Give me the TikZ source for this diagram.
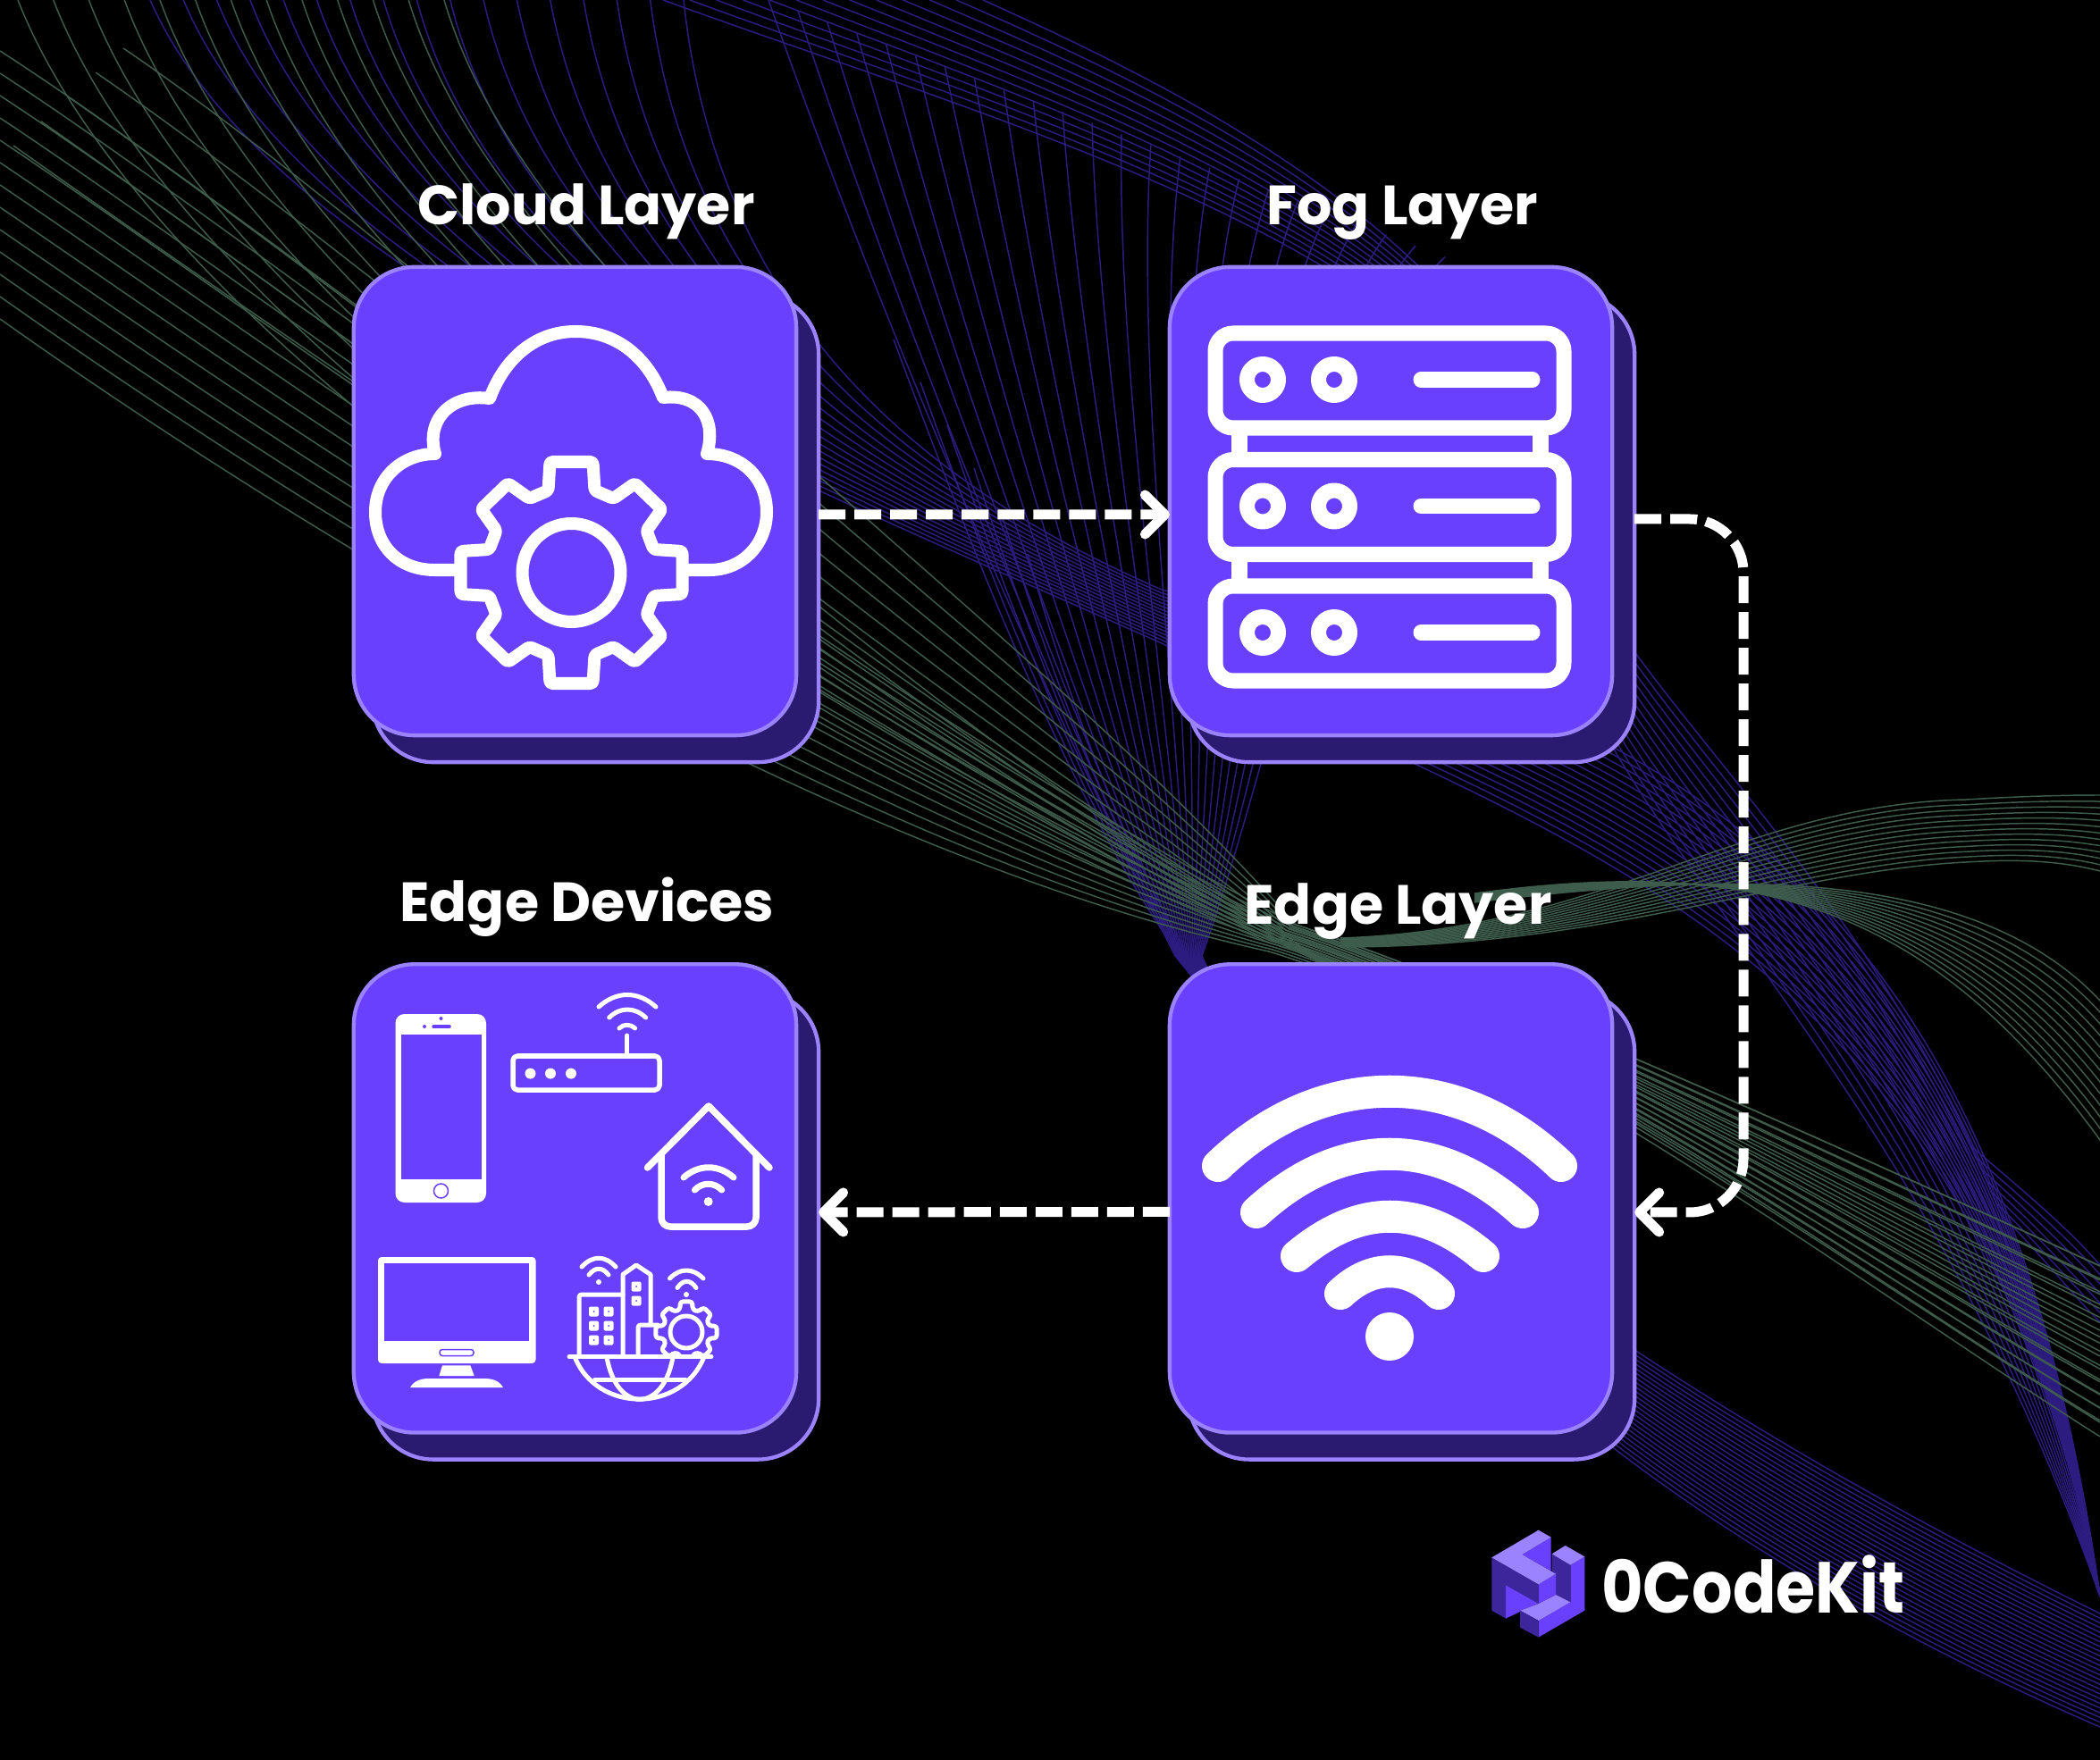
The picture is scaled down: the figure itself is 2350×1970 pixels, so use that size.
\documentclass[tikz,border=0pt]{standalone}
\usepackage{fontspec}
\setmainfont{Poppins}
\usetikzlibrary{positioning,arrows.meta,calc}
\definecolor{tierfill}{HTML}{6A40FF}
\definecolor{tieredge}{HTML}{9B82FF}
\definecolor{tierback}{HTML}{2A1A70}
\definecolor{meshpurple}{HTML}{2C1C80}
\definecolor{meshgreen}{HTML}{3E5C4C}
\tikzset{
  backbox/.style={
    draw=tieredge, fill=tierback, rounded corners=.68cm, line width=.043cm,
    minimum width=4.99cm, minimum height=5.24cm, inner sep=0pt, outer sep=0pt
  },
  frontbox/.style={
    draw=tieredge, fill=tierfill, rounded corners=.68cm, line width=.043cm,
    minimum width=4.95cm, minimum height=5.24cm, inner sep=0pt, outer sep=0pt
  },
  tierlabel/.style={
    text=white, font=\fontsize{17.6}{21}\selectfont\bfseries, inner sep=0pt
  },
  flowarrow/.style={
    draw=white, line width=.11cm, dash pattern=on .3cm off .1cm,
    -{Straight Barb[length=.22cm,width=.44cm,round]}
  },
  iconline/.style={draw=white, line width=.14cm, line cap=round, line join=round},
  thinicon/.style={draw=white, line width=.05cm, line cap=round, line join=round},
  waveline/.style={line width=.42pt},
  gearpic/.pic={
    \draw[rounded corners=.03cm, pic actions] (-24,-124) -- (24,-124) -- (26,-92) -- (47,-83) -- (71,-100)
      -- (101,-71) -- (84,-47) -- (92,-26) -- (124,-24) -- (124,24) -- (92,26) -- (84,47) -- (101,71)
      -- (71,100) -- (47,83) -- (26,92) -- (24,124) -- (-24,124) -- (-26,92) -- (-47,83) -- (-71,100)
      -- (-101,71) -- (-84,47) -- (-92,26) -- (-124,24) -- (-124,-24) -- (-92,-26) -- (-84,-47)
      -- (-101,-71) -- (-71,-100) -- (-47,-83) -- (-26,-92) -- cycle;
  }
}
\newcommand{\wavecurve}[8]{%
  \coordinate (#1a) at #2; \coordinate (#1b) at #3; \coordinate (#1c) at #4; \coordinate (#1d) at #5;
  \coordinate (#1e) at #6; \coordinate (#1f) at #7; \coordinate (#1g) at #8;
}
\newcommand{\wavemesh}[4]{%
  \foreach \kk in {0,...,#4}{
    \pgfmathsetmacro\mix{\kk/#4}
    \draw[waveline,#1] ($(#2a)!\mix!(#3a)$) .. controls ($(#2b)!\mix!(#3b)$) and ($(#2c)!\mix!(#3c)$) .. ($(#2d)!\mix!(#3d)$)
      .. controls ($(#2e)!\mix!(#3e)$) and ($(#2f)!\mix!(#3f)$) .. ($(#2g)!\mix!(#3g)$);
  }
}
\begin{document}
\begin{tikzpicture}[x=.01cm,y=-.01cm]
  \fill[black] (0,0) rectangle (2350,1970);
  \useasboundingbox (0,0) rectangle (2350,1970);

  \begin{scope}
    \clip (0,0) rectangle (2350,1970);
    \wavecurve{pa}{(168,0)}{(300,300)}{(850,520)}{(1300,720)}{(1750,950)}{(2200,1040)}{(2350,1787)}
    \wavecurve{pb}{(765,0)}{(800,330)}{(1000,530)}{(1300,660)}{(1850,800)}{(2230,950)}{(2350,1787)}
    \wavemesh{meshpurple}{pa}{pb}{16}
    \wavecurve{pc}{(1100,0)}{(1300,90)}{(1560,220)}{(1690,420)}{(1740,820)}{(2230,950)}{(2350,1787)}
    \wavecurve{pd}{(742,0)}{(1100,130)}{(1500,240)}{(1690,470)}{(1700,900)}{(2100,1080)}{(2350,1787)}
    \wavemesh{meshpurple}{pc}{pd}{12}
    \wavecurve{pe}{(860,0)}{(1000,400)}{(1170,780)}{(1315,1070)}{(1500,1300)}{(1850,1560)}{(2350,1806)}
    \wavecurve{pf}{(1650,300)}{(1500,420)}{(1440,800)}{(1345,1070)}{(1450,1300)}{(1700,1650)}{(2350,1933)}
    \wavemesh{meshpurple}{pe}{pf}{24}
    \wavecurve{pg}{(1000,380)}{(1100,650)}{(1200,900)}{(1320,1070)}{(1340,1110)}{(1400,1180)}{(1450,1230)}
    \wavecurve{ph}{(1150,620)}{(1200,800)}{(1260,950)}{(1330,1070)}{(1340,1110)}{(1400,1180)}{(1450,1230)}
    \wavemesh{meshpurple}{pg}{ph}{5}
    \wavecurve{pi}{(2206,1283)}{(2260,1330)}{(2310,1370)}{(2350,1416)}{(2380,1450)}{(2400,1470)}{(2420,1490)}
    \wavecurve{pj}{(2240,1360)}{(2280,1400)}{(2320,1450)}{(2350,1480)}{(2380,1510)}{(2400,1530)}{(2420,1550)}
    \wavemesh{meshpurple}{pi}{pj}{6}

    \wavecurve{gla}{(0,357)}{(300,570)}{(900,950)}{(1420,1065)}{(1700,1150)}{(2100,1450)}{(2350,1608)}
    \wavecurve{glb}{(0,57)}{(300,250)}{(900,750)}{(1450,1035)}{(1650,1100)}{(2050,1280)}{(2350,1417)}
    \wavemesh{meshgreen}{gla}{glb}{12}
    \wavecurve{gta}{(20,0)}{(150,330)}{(700,750)}{(1420,1055)}{(1700,1140)}{(2100,1440)}{(2350,1590)}
    \wavecurve{gtb}{(497,0)}{(600,350)}{(1100,640)}{(1450,1035)}{(1650,1100)}{(2050,1280)}{(2350,1417)}
    \wavemesh{meshgreen}{gta}{gtb}{12}
    \wavecurve{gsa}{(15,163)}{(350,400)}{(1000,850)}{(1420,1050)}{(1470,1075)}{(1530,1100)}{(1600,1120)}
    \wavecurve{gsb}{(138,54)}{(500,300)}{(1000,800)}{(1430,1040)}{(1470,1075)}{(1530,1100)}{(1600,1120)}
    \wavemesh{meshgreen}{gsa}{gsb}{4}
    \wavecurve{ga}{(1500,1050)}{(1800,1040)}{(1950,900)}{(2200,895)}{(2250,892)}{(2300,890)}{(2350,890)}
    \wavecurve{gb}{(1500,1060)}{(1800,1060)}{(2000,975)}{(2200,965)}{(2250,962)}{(2300,962)}{(2350,975)}
    \wavemesh{meshgreen}{ga}{gb}{12}
    \wavecurve{gc}{(1650,1000)}{(1950,960)}{(2150,1000)}{(2350,1276)}{(2400,1340)}{(2420,1370)}{(2450,1400)}
    \wavecurve{gd}{(1650,1010)}{(1900,980)}{(2200,960)}{(2350,1120)}{(2400,1170)}{(2420,1200)}{(2450,1230)}
    \wavemesh{meshgreen}{gc}{gd}{12}
  \end{scope}

  \node[backbox] (cloudback) at (666.5,591) {};
  \node[backbox, right=4.135cm of cloudback] (fogback) {};
  \node[backbox, below=2.56cm of cloudback] (devicesback) {};
  \node[backbox, below=2.56cm of fogback] (edgeback) {};

  \node[frontbox] (cloud) at ([xshift=-.23cm,yshift=.3cm]cloudback.center) {};
  \node[frontbox] (fog) at ([xshift=-.23cm,yshift=.3cm]fogback.center) {};
  \node[frontbox] (devices) at ([xshift=-.23cm,yshift=.3cm]devicesback.center) {};
  \node[frontbox] (edge) at ([xshift=-.23cm,yshift=.3cm]edgeback.center) {};

  \node[tierlabel, above=.3cm of cloud, xshift=.125cm] (cloudtitle) {Cloud Layer};
  \node[tierlabel, above=.3cm of fog, xshift=.13cm] (fogtitle) {Fog Layer};
  \node[tierlabel, above=.3cm of devices, xshift=.135cm] (devicestitle) {Edge Devices};
  \node[tierlabel, above=.27cm of edge, xshift=.08cm] (edgetitle) {Edge Layer};

  \draw[flowarrow] ([yshift=.15cm]cloudback.east) -- ([yshift=-.15cm]fog.west);
  \draw[flowarrow, rounded corners=.6cm] ([yshift=.1cm]fogback.east) -| (1951,1357) -- ([yshift=.145cm]edgeback.east);
  \draw[flowarrow] ([yshift=-.15cm]edge.west) -- ([yshift=.145cm]devicesback.east);

  \draw[iconline] (509,638) -- (487,638) .. controls (445,638) and (420,610) .. (420,573)
    .. controls (420,535) and (450,508) .. (487,508) .. controls (476,470) and (505,440) .. (548,446)
    .. controls (565,400) and (600,371) .. (644,371) .. controls (690,371) and (725,400) .. (742,445)
    .. controls (785,440) and (802,472) .. (791,508) .. controls (830,508) and (858,535) .. (858,573)
    .. controls (858,610) and (830,638) .. (794,638) -- (769,638);
  \pic[iconline] at (639.5,641) {gearpic};
  \draw[iconline] (639.5,641) circle[radius=55];

  \foreach \racktop in {373,514.5,656}{
    \draw[iconline, line width=.17cm, rounded corners=.2cm] (1360,\racktop) rectangle (1750,\racktop+106);
    \draw[iconline, line width=.17cm] (1590,\racktop+52) -- (1715,\racktop+52);
    \draw[iconline, line width=.17cm] (1413,\racktop+52) circle[radius=17.5];
    \draw[iconline, line width=.17cm] (1493,\racktop+52) circle[radius=17.5];
  }
  \foreach \gap in {479,620.5}{
    \fill[white] (1378,\gap) rectangle (1396,\gap+36);
    \fill[white] (1715,\gap) rectangle (1733,\gap+36);
  }

  \draw[iconline, line width=.36cm] (1363,1305) .. controls (1478,1194) and (1632,1194) .. (1747,1305);
  \draw[iconline, line width=.36cm] (1406,1357) .. controls (1501,1270) and (1609,1270) .. (1704,1357);
  \draw[iconline, line width=.36cm] (1451,1406) .. controls (1521,1347) and (1590,1347) .. (1660,1406);
  \draw[iconline, line width=.36cm] (1500,1448) .. controls (1535,1415) and (1575,1415) .. (1610,1448);
  \fill[white] (1555,1496) circle[radius=27];

  \fill[white, rounded corners=.1cm] (442.5,1135) rectangle (544,1346);
  \fill[tierfill] (448.5,1158) rectangle (538.5,1319.5);
  \draw[tierfill, line width=.015cm] (493.5,1333) circle[radius=8];
  \fill[tierfill] (493.5,1140) circle[radius=2];
  \fill[tierfill] (475,1149) circle[radius=2];
  \draw[tierfill, line width=.035cm, line cap=round] (485,1149) -- (503,1149);

  \draw[thinicon, line width=.055cm, rounded corners=.05cm] (574,1182) rectangle (738,1220);
  \foreach \ledx in {593.5,616,639}{
    \fill[white] (\ledx,1201.6) circle[radius=6];
  }
  \draw[thinicon] (701.7,1182) -- (701.7,1159);
  \draw[thinicon] (670,1127) .. controls (690,1109) and (714,1109) .. (734,1127);
  \draw[thinicon] (681.7,1139) .. controls (694,1127) and (710,1127) .. (722.7,1139);
  \draw[thinicon] (693,1151) .. controls (698,1146) and (705,1146) .. (710.6,1151);

  \draw[iconline, line width=.075cm] (724.5,1307) -- (793,1238) -- (861,1307);
  \draw[iconline, line width=.075cm, rounded corners=.1cm] (740,1293) -- (740,1373) -- (846,1373) -- (846,1293);
  \draw[iconline, line width=.07cm] (765,1318) .. controls (782,1303) and (804,1303) .. (821,1318);
  \draw[iconline, line width=.07cm] (777.4,1332) .. controls (786,1323) and (799,1323) .. (807.7,1332);
  \fill[white] (792.7,1345) circle[radius=5];

  \fill[white, rounded corners=.04cm] (423,1407) rectangle (599.5,1526);
  \fill[tierfill] (430,1414) rectangle (592.4,1501);
  \draw[tierfill, line width=.015cm, rounded corners=.03cm] (492,1510.5) rectangle (530,1517.5);
  \fill[white] (495,1528.4) -- (526.4,1528.4) -- (530.7,1540) -- (491.4,1540) -- cycle;
  \fill[white] (459,1553) .. controls (463,1546) and (470,1543) .. (480,1543) -- (542,1543)
    .. controls (552,1543) and (559,1546) .. (563,1553) -- cycle;

  \draw[thinicon] (637,1518.5) -- (796,1518.5);
  \draw[thinicon] (643,1518.5) .. controls (668,1582) and (763,1582) .. (788,1518.5);
  \draw[thinicon] (679,1519) .. controls (690,1582) and (742,1582) .. (753,1519);
  \draw[thinicon] (665.6,1544) -- (767,1544);
  \draw[thinicon, rounded corners=.03cm] (648,1518) -- (648,1449) -- (697,1449);
  \draw[thinicon] (697,1518) -- (697,1426.6) -- (712,1416) -- (728,1426.6) -- (728,1481);
  \draw[thinicon, rounded corners=.03cm] (714,1518) -- (714,1483) -- (736,1483);
  \foreach \winx/\winy in {664.5/1468,681/1468,664.5/1484,681/1484,664.5/1500,681/1500,712/1440,712/1456}{
    \fill[white, rounded corners=.02cm] (\winx-5.5,\winy-5.5) rectangle (\winx+5.5,\winy+5.5);
    \fill[tierfill] (\winx,\winy) circle[radius=1];
  }
  \begin{scope}
    \clip (725,1440) rectangle (815,1516);
    \pic[thinicon, scale=.275] at (768,1491) {gearpic};
  \end{scope}
  \draw[thinicon] (768,1491) circle[radius=18];
  \draw[thinicon] (651,1418) .. controls (663,1405) and (677,1405) .. (689,1418);
  \draw[thinicon] (659,1427) .. controls (666,1418) and (674,1418) .. (681,1427);
  \fill[white] (670,1435) circle[radius=3];
  \draw[thinicon] (749.5,1431) .. controls (761,1419) and (775,1419) .. (787,1431);
  \draw[thinicon] (758,1441.5) .. controls (764,1432) and (773,1432) .. (779,1441.5);
  \fill[white] (768,1449) circle[radius=3];

  \begin{scope}[shift={(1640,1680)},scale=.3333]
    \fill[tierfill] (245,402) -- (352,340) -- (352,215) -- (400,187) -- (400,368) -- (245,458) -- cycle;
    \fill[tierback!70!tierfill] (290,178) -- (352,215) -- (352,340) -- (303,315) -- (303,245) -- (290,238) -- cycle;
    \fill[tieredge] (290,178) -- (335,150) -- (400,187) -- (352,215) -- cycle;
    \fill[tieredge] (183,368) -- (245,345) -- (303,315) -- (352,340) -- (245,402) -- cycle;
    \fill[tierback!70!tierfill] (183,368) -- (245,402) -- (245,458) -- (183,425) -- cycle;
    \fill[tierback!70!tierfill] (88,190) -- (245,280) -- (245,345) -- (135,283) -- (135,395) -- (88,368) -- cycle;
    \fill[tierfill] (135,283) -- (245,345) -- (183,368) -- (183,372) -- (135,395) -- cycle;
    \fill[tierfill] (245,280) -- (303,245) -- (303,315) -- (245,345) -- cycle;
    \fill[tierfill] (190,180) -- (287,122) -- (287,235) -- cycle;
    \fill[tieredge] (88,190) -- (245,98) -- (287,122) -- (190,180) -- (303,245) -- (245,280) -- cycle;
  \end{scope}
  \node[text=white, font=\fontsize{23}{26}\selectfont\bfseries, inner sep=0pt] (brand) at (1962,1773) {\scalebox{.885}[1]{0CodeKit}};
\end{tikzpicture}
\end{document}
